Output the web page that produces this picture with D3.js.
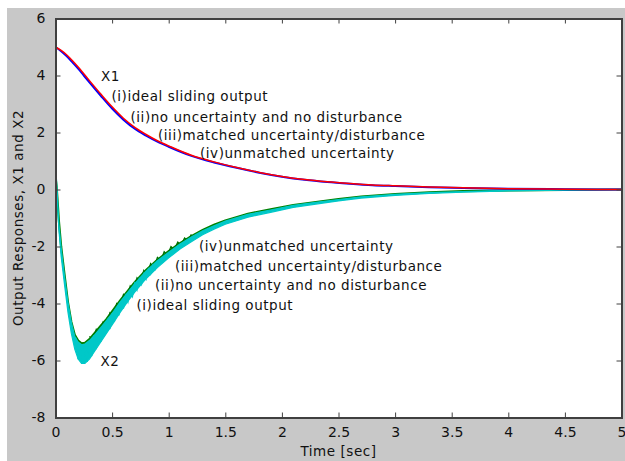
<!DOCTYPE html>
<html>
<head>
<meta charset="utf-8">
<script src="https://cdn.jsdelivr.net/npm/d3@7"></script>
<style>
  body { margin: 0; background: #fff; }
  text { font-family: "DejaVu Sans", sans-serif; fill: #111; }
  .lbl { font-size: 13.5px; letter-spacing: 0.55px; }
</style>
</head>
<body>
<div id="chart"></div>
<script>
const SVG_WIDTH = 625;
const SVG_HEIGHT = 461;
const MARGIN = { TOP: 18.5, RIGHT: 3, LEFT: 55.5, BOTTOM: 43.5 };

// X1 responses
const t1 = [0, 0.05, 0.1, 0.15, 0.2, 0.25, 0.3, 0.4, 0.5, 0.6, 0.7, 0.8, 0.9, 1.0,
  1.2, 1.4, 1.6, 1.8, 2.0, 2.2, 2.4, 2.6, 2.8, 3.0, 3.3, 3.6, 4.0, 4.5, 5.0];
const x1Red = [5.0, 4.88, 4.72, 4.52, 4.3, 4.06, 3.82, 3.35, 2.9, 2.5, 2.18, 1.93, 1.71, 1.53,
  1.2, 0.97, 0.77, 0.6, 0.46, 0.35, 0.27, 0.21, 0.16, 0.13, 0.09, 0.06, 0.03, 0.01, 0.0];
const x1Blue = [5.0, 4.85, 4.67, 4.46, 4.24, 4.0, 3.76, 3.29, 2.84, 2.45, 2.13, 1.89, 1.68, 1.5,
  1.18, 0.95, 0.76, 0.59, 0.45, 0.34, 0.26, 0.2, 0.15, 0.12, 0.08, 0.05, 0.03, 0.01, 0.0];

// X2 responses (cyan band edges and green line)
const t2 = [0, 0.01, 0.03, 0.05, 0.08, 0.11, 0.14, 0.17, 0.2, 0.23, 0.26, 0.3, 0.35, 0.4, 0.45,
  0.5, 0.57, 0.64, 0.7, 0.8, 0.9, 1.0, 1.1, 1.2, 1.3, 1.4, 1.5, 1.7, 1.9, 2.1, 2.3, 2.5, 2.7,
  3.0, 3.3, 3.6, 4.0, 4.5, 5.0];
const x2CyanUpper = [1.0, 0.25, -1.2, -2.05, -3.05, -3.95, -4.65, -5.15, -5.35, -5.45, -5.42, -5.3, -5.08, -4.85, -4.6,
  -4.35, -3.95, -3.6, -3.3, -2.87, -2.5, -2.2, -1.91, -1.67, -1.45, -1.27, -1.11, -0.87, -0.72, -0.56, -0.45, -0.35, -0.26,
  -0.17, -0.11, -0.07, -0.03, -0.01, 0];
const x2CyanLower = [1.0, 0.1, -1.4, -2.35, -3.35, -4.3, -5.05, -5.6, -5.95, -6.1, -6.1, -5.95, -5.65, -5.35, -5.05,
  -4.75, -4.32, -3.92, -3.6, -3.13, -2.74, -2.4, -2.09, -1.83, -1.59, -1.39, -1.22, -0.97, -0.8, -0.63, -0.51, -0.4, -0.3,
  -0.21, -0.14, -0.09, -0.05, -0.02, 0];
const x2Green = [0.45, 0.1, -1.1, -2.0, -3.0, -3.95, -4.65, -5.1, -5.3, -5.4, -5.38, -5.25, -5.02, -4.78, -4.55,
  -4.28, -3.9, -3.55, -3.25, -2.83, -2.47, -2.16, -1.88, -1.64, -1.42, -1.24, -1.09, -0.85, -0.7, -0.55, -0.44, -0.34, -0.25,
  -0.16, -0.1, -0.06, -0.03, -0.01, 0];

// chattering of the cyan trace near the dip
const tChat = [0.16, 0.18, 0.20, 0.22, 0.24, 0.26, 0.28, 0.30, 0.32, 0.34, 0.36, 0.38, 0.40, 0.42, 0.44,
  0.46, 0.48, 0.50, 0.52, 0.54, 0.56, 0.58, 0.60, 0.62, 0.64, 0.66, 0.68, 0.70, 0.72, 0.74, 0.76,
  0.78, 0.80, 0.82, 0.84, 0.86, 0.88, 0.90];
const x2Chat = [-5.35, -5.25, -5.95, -5.42, -6.12, -5.44, -6.05, -5.3, -5.85, -5.12, -5.6, -4.95, -5.35, -4.75, -5.1,
  -4.57, -4.9, -4.35, -4.65, -4.13, -4.42, -3.93, -4.18, -3.73, -3.95, -3.56, -3.75, -3.3, -3.52, -3.14, -3.33,
  -2.97, -3.15, -2.8, -2.97, -2.65, -2.8, -2.5];

// chattering teeth of the green trace on the rising part
const tTeeth = [0.30, 0.33, 0.36, 0.39, 0.42, 0.45, 0.48, 0.51, 0.54, 0.57, 0.60, 0.63, 0.66, 0.69, 0.72,
  0.75, 0.78, 0.81, 0.84, 0.87, 0.90, 0.93, 0.96, 0.99, 1.02, 1.05, 1.08, 1.11, 1.14, 1.17, 1.20];
const x2Teeth = [-5.15, -5.3, -4.9, -5.05, -4.65, -4.8, -4.33, -4.5, -4.0, -4.15, -3.68, -3.85, -3.38, -3.55, -3.1,
  -3.25, -2.84, -3.0, -2.6, -2.75, -2.38, -2.5, -2.18, -2.3, -2.0, -2.1, -1.84, -1.95, -1.7, -1.8, -1.57];

const xTicks = [0, 0.5, 1, 1.5, 2, 2.5, 3, 3.5, 4, 4.5, 5];
const yTicks = [-8, -6, -4, -2, 0, 2, 4, 6];

const labelsX1 = ["X1", "(i)ideal sliding output", "(ii)no uncertainty and no disturbance",
  "(iii)matched uncertainty/disturbance", "(iv)unmatched uncertainty"];
const labelsX2 = ["(iv)unmatched uncertainty", "(iii)matched uncertainty/disturbance",
  "(ii)no uncertainty and no disturbance", "(i)ideal sliding output", "X2"];

const svg = d3.select("#chart").append("svg")
  .attr("width", SVG_WIDTH)
  .attr("height", SVG_HEIGHT);

// gray figure background
svg.append("rect")
  .attr("x", 7).attr("y", 8)
  .attr("width", SVG_WIDTH - 7).attr("height", SVG_HEIGHT - 8)
  .attr("fill", "#c8c8c8");

const W = SVG_WIDTH - MARGIN.LEFT - MARGIN.RIGHT - 0.5;
const H = SVG_HEIGHT - MARGIN.TOP - MARGIN.BOTTOM;

const x = d3.scaleLinear().domain([0, 5]).range([MARGIN.LEFT, MARGIN.LEFT + W]);
const y = d3.scaleLinear().domain([-8, 6]).range([MARGIN.TOP + H, MARGIN.TOP]);

svg.append("rect")
  .attr("x", x(0)).attr("y", y(6))
  .attr("width", x(5) - x(0)).attr("height", y(-8) - y(6))
  .attr("fill", "#fff");

const g = svg.append("g");
g.append("clipPath").attr("id", "clip")
  .append("rect")
  .attr("x", x(0)).attr("y", y(6))
  .attr("width", x(5) - x(0)).attr("height", y(-8) - y(6));

const plot = g.append("g").attr("clip-path", "url(#clip)");

const line = d3.line()
  .x(d => x(d[0]))
  .y(d => y(d[1]));
const smooth = d3.line()
  .x(d => x(d[0]))
  .y(d => y(d[1]))
  .curve(d3.curveMonotoneX);

// X2 green line + teeth
plot.append("path")
  .datum(t2.map((t, i) => [t, x2Green[i]]))
  .attr("d", line)
  .attr("fill", "none")
  .attr("stroke", "#008000")
  .attr("stroke-width", 2.2);

plot.append("path")
  .datum(tTeeth.map((t, i) => [t, x2Teeth[i]]))
  .attr("d", line)
  .attr("fill", "none")
  .attr("stroke", "#007000")
  .attr("stroke-width", 1.2);

// cyan band
const area = d3.area()
  .x((d, i) => x(t2[i]))
  .y0((d, i) => y(x2CyanLower[i]))
  .y1((d, i) => y(x2CyanUpper[i]));
plot.append("path")
  .datum(t2)
  .attr("d", area)
  .attr("fill", "#00c8c8")
  .attr("stroke", "#00c8c8")
  .attr("stroke-width", 1.2);

plot.append("path")
  .datum(tChat.map((t, i) => [t, x2Chat[i]]))
  .attr("d", line)
  .attr("fill", "none")
  .attr("stroke", "#00c8c8")
  .attr("stroke-width", 1.3);

// X1 lines
plot.append("path")
  .datum(t1.map((t, i) => [t, x1Blue[i]]))
  .attr("d", smooth)
  .attr("fill", "none")
  .attr("stroke", "#0000ff")
  .attr("stroke-width", 2);

plot.append("path")
  .datum(t1.map((t, i) => [t, x1Red[i]]))
  .attr("d", smooth)
  .attr("fill", "none")
  .attr("stroke", "#ff0000")
  .attr("stroke-width", 1.5);

// axes, MATLAB style ticks inside the box
const axisColor = "#404040";
const fmt = d => String(d);
const xAxisB = d3.axisBottom(x).tickValues(xTicks).tickSize(-5).tickPadding(10).tickFormat(fmt);
const xAxisT = d3.axisTop(x).tickValues(xTicks).tickSize(-5).tickFormat("");
const yAxisL = d3.axisLeft(y).tickValues(yTicks).tickSize(-5).tickPadding(10).tickFormat(fmt);
const yAxisR = d3.axisRight(y).tickValues(yTicks).tickSize(-5).tickFormat("");

svg.append("g").attr("transform", `translate(0,${y(-8)})`).call(xAxisB);
svg.append("g").attr("transform", `translate(0,${y(6)})`).call(xAxisT);
svg.append("g").attr("transform", `translate(${x(0)},0)`).call(yAxisL);
svg.append("g").attr("transform", `translate(${x(5)},0)`).call(yAxisR);

svg.selectAll(".domain").attr("stroke", axisColor).attr("stroke-width", 2);
svg.selectAll(".tick line").attr("stroke", axisColor).attr("stroke-width", 1);
svg.selectAll(".tick text")
  .style("font-size", "14px")
  .style("font-family", "DejaVu Sans, sans-serif")
  .attr("fill", "#111");

// annotations
const posX1 = [[101, 80.5], [111.5, 100.5], [130.5, 121.5], [158, 140], [200, 157.5]];
const posX2 = [[199, 250.5], [175, 270.5], [155, 290], [136.5, 310], [100.5, 365.5]];
svg.append("g").selectAll("text")
  .data(labelsX1)
  .enter().append("text")
  .attr("class", "lbl")
  .attr("x", (d, i) => posX1[i][0])
  .attr("y", (d, i) => posX1[i][1])
  .text(d => d);
svg.append("g").selectAll("text")
  .data(labelsX2)
  .enter().append("text")
  .attr("class", "lbl")
  .attr("x", (d, i) => posX2[i][0])
  .attr("y", (d, i) => posX2[i][1])
  .text(d => d);

// axis titles
svg.append("text")
  .attr("class", "lbl")
  .attr("x", (x(0) + x(5)) / 2)
  .attr("y", 456)
  .attr("text-anchor", "middle")
  .text("Time [sec]");

svg.append("text")
  .attr("class", "lbl")
  .attr("transform", `translate(23,${(y(6) + y(-8)) / 2}) rotate(-90)`)
  .attr("text-anchor", "middle")
  .text("Output Responses, X1 and X2");
</script>
</body>
</html>
